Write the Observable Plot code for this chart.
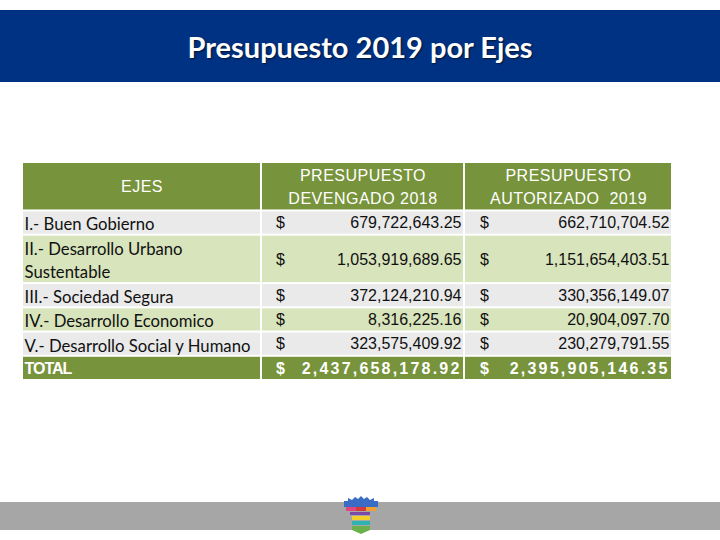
<!DOCTYPE html>
<html>
<head>
<meta charset="utf-8">
<script src="https://cdn.jsdelivr.net/npm/d3@7"></script>
<script src="https://cdn.jsdelivr.net/npm/@observablehq/plot@0.6"></script>
<style>
  html, body { margin: 0; padding: 0; background: #fff; width: 720px; height: 540px; overflow: hidden; position: relative; }
  #banner { position: absolute; left: 0; top: 10px; width: 720px; height: 72px; background: #003284;
            color: #fff; font-family: Lato, "Open Sans", sans-serif; font-weight: 700; font-size: 29px;
            display: flex; align-items: center; justify-content: center; text-shadow: 1px 1px 2px rgba(0,0,0,0.6); }
  #chart { position: absolute; left: 0; top: 82px; }
  #band { position: absolute; left: 0; top: 502px; width: 720px; height: 28px; background: #A6A6A6; }
  #logo { position: absolute; left: 340px; top: 495px; }
</style>
</head>
<body>
<div id="banner">Presupuesto 2019 por Ejes</div>
<div id="band"></div>
<svg id="logo" width="42" height="42" viewBox="0 0 42 42">
  <path d="M4 12 L4 6 L8 6 L8 3 L12 5 L15 2 L18 4 L21 1 L24 4 L27 2 L30 5 L34 3 L34 6 L38 6 L38 12 Z" fill="#3a6cc6"/>
  <rect x="6" y="12" width="10" height="4" fill="#e0457b"/>
  <rect x="16" y="12" width="10" height="4" fill="#d63a3a"/>
  <rect x="26" y="12" width="10" height="4" fill="#f0a030"/>
  <rect x="10" y="17" width="20" height="3" fill="#7a4aa8"/>
  <rect x="12" y="21" width="18" height="4" fill="#f2cf2a"/>
  <rect x="12" y="26" width="18" height="4" fill="#2fb3b0"/>
  <path d="M12 31 L30 31 L30 35 L21 39 L12 35 Z" fill="#6ab04c"/>
</svg>
<div id="chart"></div>
<script>
// ---- data ----
const headers = ["EJES", "PRESUPUESTO\nDEVENGADO 2018", "PRESUPUESTO\nAUTORIZADO  2019"];
const ejes = [
  "I.- Buen Gobierno",
  "II.- Desarrollo Urbano\nSustentable",
  "III.- Sociedad Segura",
  "IV.- Desarrollo Economico",
  "V.- Desarrollo Social y Humano"
];
const devengado2018 = [679722643.25, 1053919689.65, 372124210.94, 8316225.16, 323575409.92];
const autorizado2019 = [662710704.52, 1151654403.51, 330356149.07, 20904097.70, 230279791.55];
const totalLabel = "TOTAL";
const currency = "$";

// ---- layout ----
const colEdges = [0, 239, 442, 650];
const olive = "#77933C", grayRow = "#EAEAEA", greenRow = "#D8E4BC";
const fmt = d3.format(",.2f");

const rows = [];
let acc = 0;
function addRow(kind, label, a, b, fill) {
  const lines = label.split("\n").length;
  const lh = kind === "header" ? 2 : lines;
  rows.push({kind, label, a, b, fill, y1: acc, y2: acc + lh, ym: acc + lh / 2});
  acc += lh;
}
addRow("header", headers[0], headers[1], headers[2], olive);
ejes.forEach((e, i) => addRow("data", e, devengado2018[i], autorizado2019[i], i % 2 === 0 ? grayRow : greenRow));
addRow("total", totalLabel, d3.sum(devengado2018), d3.sum(autorizado2019), olive);

const cells = rows.flatMap(r => [0, 1, 2].map(c => ({x1: colEdges[c], x2: colEdges[c + 1], y1: r.y1, y2: r.y2, fill: r.fill})));
const header = rows.filter(r => r.kind === "header");
const dataRows = rows.filter(r => r.kind === "data");
const totalRows = rows.filter(r => r.kind === "total");
const numCells = rs => rs.flatMap(r => [
  {x: colEdges[2] - 3, y: r.ym, t: fmt(r.a)},
  {x: colEdges[3] - 3, y: r.ym, t: fmt(r.b)}
]);
const dollarCells = rs => rs.flatMap(r => [
  {x: colEdges[1] + 19, y: r.ym, t: currency},
  {x: colEdges[2] + 20, y: r.ym, t: currency}
]);

const sans = "Liberation Sans, Arial, sans-serif";
const chart = Plot.plot({
  width: 720, height: 458,
  marginLeft: 22, marginRight: 48, marginTop: 80, marginBottom: 160,
  x: {domain: [0, 650], axis: null},
  y: {domain: [0, acc], reverse: true, axis: null},
  color: {type: "identity"},
  marks: [
    Plot.rect(cells, {x1: "x1", x2: "x2", y1: "y1", y2: "y2", fill: "fill", inset: 1}),
    // header
    Plot.text(header.flatMap(r => [r.label, r.a, r.b].map((t, c) => ({t, c, y: r.ym}))), {
      x: d => (colEdges[d.c] + colEdges[d.c + 1]) / 2, y: "y", text: "t", dy: -2,
      fill: "white", fontSize: 16, fontFamily: sans, lineHeight: 1.45, ariaDescription: "hdr"
    }),
    // labels
    Plot.text(dataRows, {x: colEdges[0] + 2, y: "ym", text: "label", textAnchor: "start",
      fill: "#111", fontSize: 16.7, fontFamily: "Lato, sans-serif", lineHeight: 1.38}),
    Plot.text(dollarCells(dataRows), {x: "x", y: "y", text: "t", fill: "#111", fontSize: 16, fontFamily: sans}),
    Plot.text(numCells(dataRows), {x: "x", y: "y", text: "t", textAnchor: "end", fill: "#111", fontSize: 16, fontFamily: sans}),
    // total
    Plot.text(totalRows, {x: colEdges[0] + 2, y: "ym", text: "label", textAnchor: "start",
      fill: "white", fontSize: 16, fontWeight: "bold", fontFamily: sans, ariaDescription: "totlabel"}),
    Plot.text(dollarCells(totalRows), {x: "x", y: "y", text: "t", fill: "white", fontSize: 16, fontWeight: "bold", fontFamily: sans}),
    Plot.text(numCells(totalRows), {x: "x", y: "y", text: "t", textAnchor: "end", fill: "white", fontSize: 16, fontWeight: "bold", fontFamily: sans, ariaDescription: "totnum"})
  ]
});
d3.select(chart).selectAll('g[aria-description="totnum"] text').style("letter-spacing", "2.2px");
d3.select(chart).selectAll('g[aria-description="totlabel"] text').style("letter-spacing", "-1px");
d3.select(chart).selectAll('g[aria-description="hdr"] text').style("letter-spacing", "0.5px");
document.getElementById("chart").appendChild(chart);
</script>
</body>
</html>
